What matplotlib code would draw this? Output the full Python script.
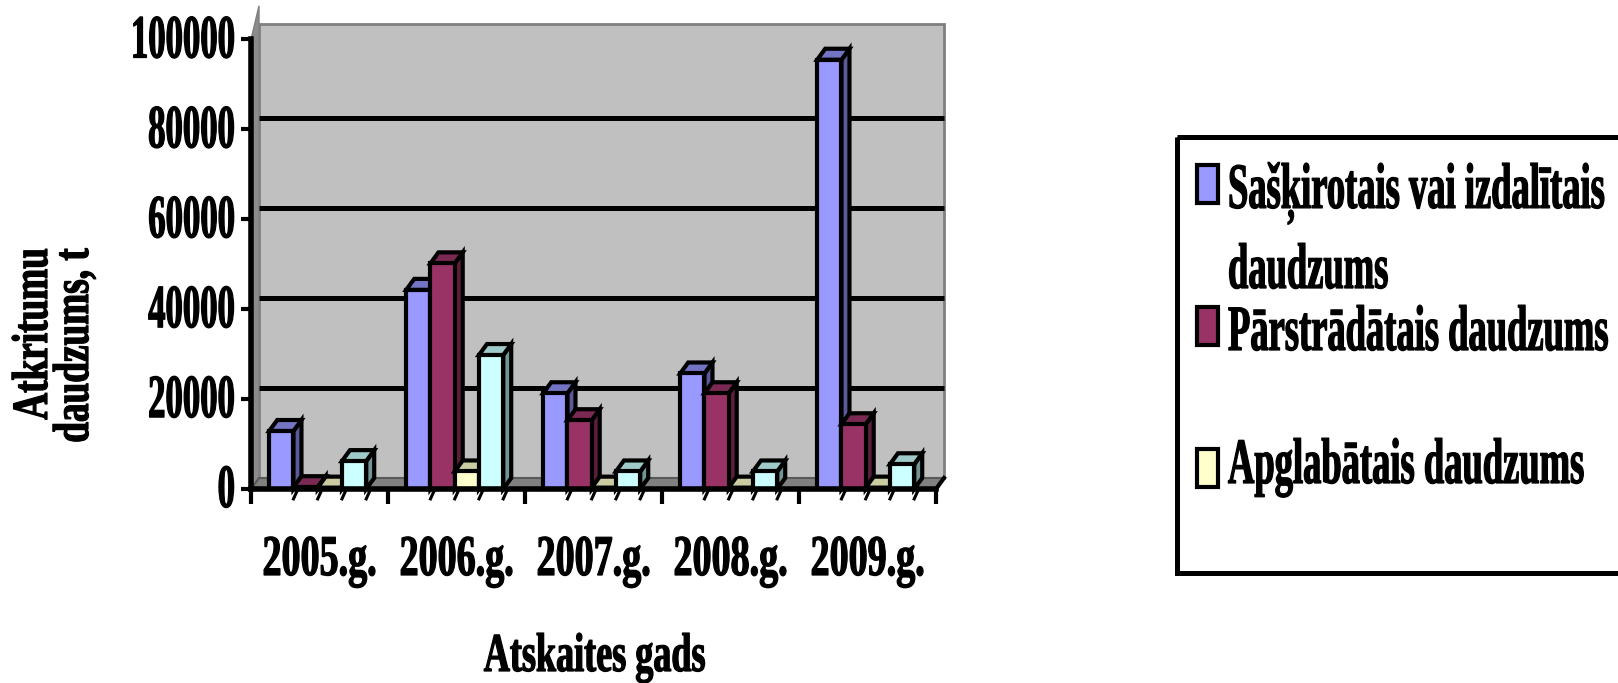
import matplotlib

matplotlib.use("Agg")
import matplotlib.pyplot as plt
from matplotlib.patches import Polygon, Rectangle
from matplotlib.patheffects import AbstractPathEffect
from matplotlib.transforms import Affine2D, offset_copy

# ---- data -------------------------------------------------------------
years = ["2005.g.", "2006.g.", "2007.g.", "2008.g.", "2009.g."]
sorted_qty = [12900, 44300, 21300, 25700, 95500]
recycled_qty = [400, 50200, 15300, 21300, 14400]
landfilled_qty = [300, 3900, 300, 300, 300]
other_qty = [6200, 29800, 3900, 3900, 5500]
legend_labels = [
    "Sašķirotais vai izdalītais\ndaudzums",
    "Pārstrādātais daudzums",
    "Apglabātais daudzums",
]
y_ticks = [0, 20000, 40000, 60000, 80000, 100000]

front_colors = ["#9999FF", "#993366", "#FFFFCC", "#CCFFFF"]
top_colors = ["#7474C4", "#7A2952", "#CCCCA3", "#9FCACA"]
side_colors = ["#5A5A9A", "#5C1F3D", "#99997A", "#729494"]

W, H = 1618, 683
FONT = "Liberation Serif"


class Tall(AbstractPathEffect):
    """Stretch glyph outlines away from the baseline and thicken them a little."""

    def __init__(self, sy, lw=0.9):
        super().__init__()
        self.sy = sy
        self.lw = lw

    def draw_path(self, renderer, gc, tpath, affine, rgbFace=None):
        gc0 = renderer.new_gc()
        gc0.copy_properties(gc)
        gc0.set_linewidth(self.lw)
        gc0.set_foreground(rgbFace)
        renderer.draw_path(gc0, tpath, Affine2D().scale(1, self.sy) + affine, rgbFace)
        gc0.restore()


def tall_text(target, x, y, s, size, sy, **kw):
    t = target.text(x, y, s, fontsize=size, family=FONT, fontweight="bold", **kw)
    t.set_path_effects([Tall(sy)])
    return t


fig = plt.figure(figsize=(W / 100, H / 100), dpi=100)
PX = Affine2D().scale(1, -1).translate(0, H)  # pixel coords, origin top-left

# front plane of the plot: x axis at y=489 px, 100000 at y=39.5 px
ax_l, ax_r, ax_b, ax_t = 251, 936, 489, 39.5
ax = fig.add_axes([ax_l / W, 1 - ax_b / H, (ax_r - ax_l) / W, (ax_b - ax_t) / H])
ax.set_xlim(0, len(years))
ax.set_ylim(0, 100000)
ax.patch.set_visible(False)
for s in ("top", "right"):
    ax.spines[s].set_visible(False)
for s in ("left", "bottom"):
    ax.spines[s].set_linewidth(4)
    ax.spines[s].set_zorder(20)
ax.set_yticks(y_ticks)
ax.set_xticks(range(len(years) + 1))
ax.tick_params(axis="y", direction="out", length=7, width=3, labelleft=False)
ax.tick_params(axis="x", direction="out", length=11, width=3, labelbottom=False)

# depth of the pseudo-3D look, in data units
DX = 8 / (ax_r - ax_l) * len(years)
DY = 11 / (ax_b - ax_t) * 100000
n = len(years)
wall_top = 103500

# walls and floor
ax.add_patch(Polygon([(DX, DY), (n + DX, DY), (n + DX, wall_top), (DX, wall_top)],
                     fc="#C0C0C0", ec="#808080", lw=2, zorder=0.5, clip_on=False))
ax.add_patch(Polygon([(0, 0), (0, 100000), (DX, wall_top + 4000), (DX, DY)],
                     fc="#8C8C8C", ec="#808080", lw=1, zorder=0.6, clip_on=False))
for v in y_ticks[1:-1]:
    ax.plot([DX, n + DX], [v + DY, v + DY], color="black", lw=3.6,
            zorder=0.7, clip_on=False, solid_capstyle="butt")
ax.add_patch(Polygon([(0, 0), (n, 0), (n + DX, DY), (DX, DY)],
                     fc="#808080", ec="#5A5A5A", lw=1.5, zorder=0.8, clip_on=False))
ax.plot([n, n + DX], [0, DY], color="black", lw=3, zorder=21, clip_on=False)

# bars: side, top and front face for each series
series = [sorted_qty, recycled_qty, landfilled_qty, other_qty]
BAR_W = 0.177
PAD = 0.133
z = 3.0
for g in range(n):
    for s, vals in enumerate(series):
        left = g + PAD + s * BAR_W
        right = left + BAR_W
        h = vals[g]
        ax.add_patch(Polygon([(right, 0), (right + DX, DY), (right + DX, h + DY), (right, h)],
                             fc=side_colors[s], ec="black", lw=3, joinstyle="miter",
                             zorder=z, clip_on=False))
        ax.add_patch(Polygon([(left, h), (right, h), (right + DX, h + DY), (left + DX, h + DY)],
                             fc=top_colors[s], ec="black", lw=3, joinstyle="miter",
                             zorder=z + 0.01, clip_on=False))
        ax.bar(left, h, width=BAR_W, align="edge", color=front_colors[s],
               edgecolor="black", lw=3, zorder=z + 0.02, clip_on=False)
        # small slanted marks under the axis at each bar edge
        ax.plot([right + 0.5 * DX, right], [-0.1 * DY, -0.9 * DY], color="black",
                lw=2.2, zorder=21, clip_on=False)
        z += 0.1

# tick labels
ylab_tr = offset_copy(ax.get_yaxis_transform(), fig=fig, x=-16, y=-18, units="dots")
for v in y_ticks:
    tall_text(ax, 0, v, f"{v}", 25.0, 1.77, ha="right", va="baseline", transform=ylab_tr)

xlab_tr = offset_copy(ax.transData, fig=fig, x=0, y=-86, units="dots")
for g, yr in enumerate(years):
    tall_text(ax, g + 0.5, 0, yr, 27.4, 1.515, ha="center", va="baseline", transform=xlab_tr)

# axis titles
tall_text(fig, 595, 671, "Atskaites gads", 26.0, 1.515, ha="center", va="baseline",
          transform=PX)
tall_text(fig, 47, 248, "Atkritumu", 26.8, 1.36, ha="right", va="baseline",
          rotation=90, rotation_mode="anchor", transform=PX)
tall_text(fig, 88, 248, "daudzums, t", 26.8, 1.36, ha="right", va="baseline",
          rotation=90, rotation_mode="anchor", transform=PX)

# legend box (runs past the right edge)
fig.add_artist(Rectangle((1177, 137), 480, 436, transform=PX, fill=False,
                         ec="black", lw=3.6, clip_on=False))
swatch_tops = [165, 307, 449]
text_baselines = [288, 350, 483]
for c, yt, yb, txt in zip(front_colors, swatch_tops, text_baselines, legend_labels):
    fig.add_artist(Rectangle((1197, yt), 21, 38, transform=PX, fc=c, ec="black", lw=3))
    tall_text(fig, 1228, yb, txt, 26.3, 1.77, ha="left", va="baseline",
              linespacing=2.6, transform=PX)

fig.savefig("out.png", dpi=100)
